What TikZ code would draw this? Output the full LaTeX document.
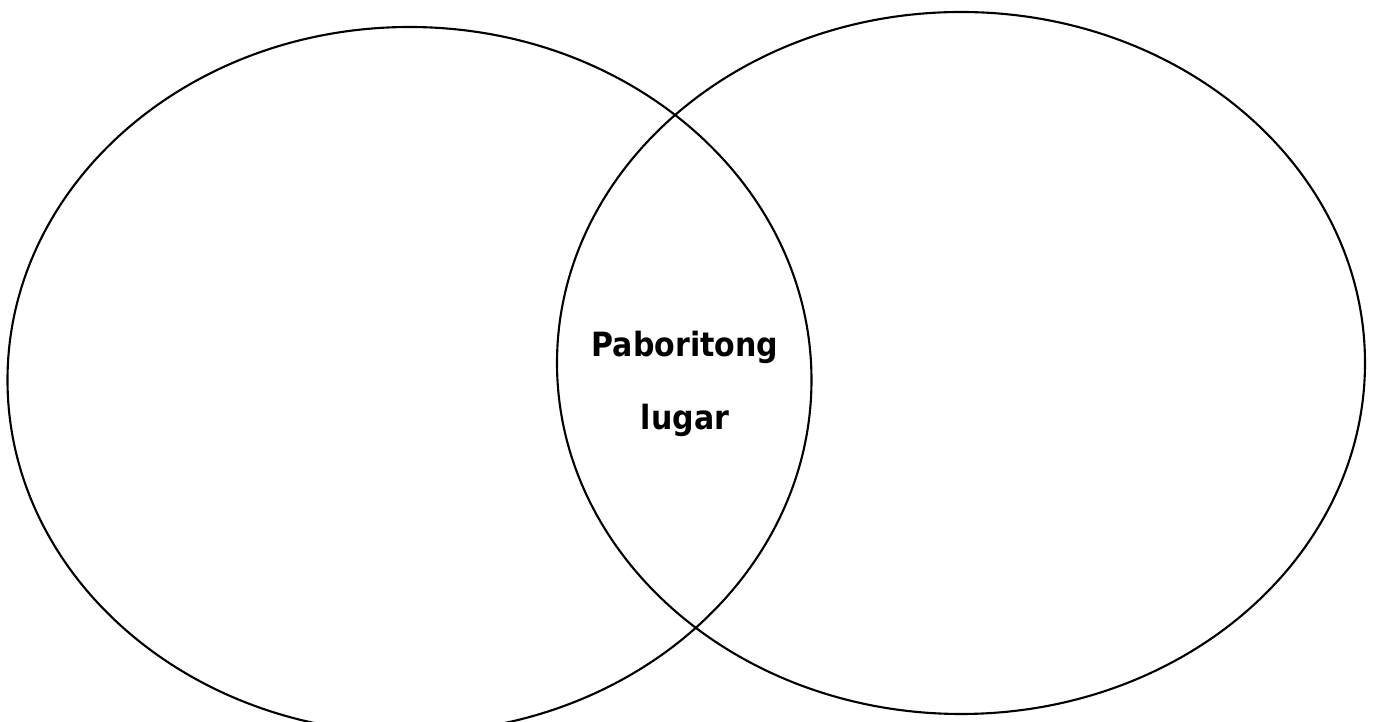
\documentclass[tikz,border=0pt]{standalone}
\usepackage{fontspec}
\newfontfamily\labelfont{DejaVu Sans Condensed}
\begin{document}
\begin{tikzpicture}[line join=round, line cap=round, font=\labelfont\bfseries\fontsize{19}{22}\selectfont]
		\def\W{27.5} \def\H{14.44}
		\useasboundingbox (0,0) rectangle (\W,\H);
		\clip (0,0) rectangle (\W,\H);
		\draw[line width=1.2pt] (8.19,6.84) ellipse [x radius=8.04, y radius=7.06];
		\draw[line width=1.2pt] (19.22,7.18) ellipse [x radius=8.08, y radius=7.02];
		\node[anchor=base] (lugar1) at (13.7,7.3) {Paboritong};
		\node[anchor=base] (lugar2) at (13.7,5.84) {lugar};
		\end{tikzpicture}
\end{document}
